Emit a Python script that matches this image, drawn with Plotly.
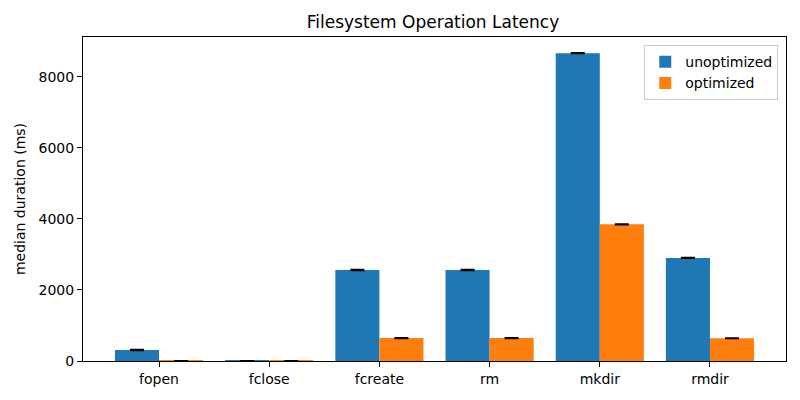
import plotly.graph_objects as go

categories = ["fopen", "fclose", "fcreate", "rm", "mkdir", "rmdir"]
unoptimized = [310, 3, 2560, 2560, 8660, 2900]
optimized = [5, 3, 645, 645, 3845, 640]
unopt_err = [12, 2, 12, 12, 12, 12]
opt_err = [3, 2, 10, 10, 10, 10]
yticks = [0, 2000, 4000, 6000, 8000]

FONT = "DejaVu Sans"
x = list(range(len(categories)))

W, H = 792, 392
L, R, T, B = 72, 14, 29, 39

fig = go.Figure()
fig.add_trace(go.Bar(
    x=[i - 0.2 for i in x], y=unoptimized, width=0.4, name="unoptimized",
    marker=dict(color="#1f77b4", line=dict(width=0)),
    error_y=dict(type="data", array=unopt_err, color="black", thickness=1.5, width=7),
))
fig.add_trace(go.Bar(
    x=[i + 0.2 for i in x], y=optimized, width=0.4, name="optimized",
    marker=dict(color="#ff7f0e", line=dict(width=0)),
    error_y=dict(type="data", array=opt_err, color="black", thickness=1.5, width=7),
))

fig.update_layout(
    width=W, height=H,
    margin=dict(l=L, r=R, t=T, b=B),
    paper_bgcolor="white", plot_bgcolor="white",
    font=dict(family=FONT, size=14, color="black"),
    title=dict(text="Filesystem Operation Latency", x=(L + (W - R)) / 2 / W, xanchor="center",
               y=1 - 14 / H, yanchor="middle", font=dict(size=17, family=FONT)),
    barmode="overlay",
    showlegend=True,
    legend=dict(x=0.989, y=0.975, xanchor="right", yanchor="top",
                bgcolor="rgba(255,255,255,0.8)", bordercolor="#cccccc", borderwidth=1,
                font=dict(size=14, family=FONT)),
    xaxis=dict(range=[-0.69, 5.69], tickmode="array", tickvals=x, ticktext=categories,
               showline=True, linecolor="black", linewidth=1, mirror=True,
               ticks="outside", ticklen=5, tickcolor="black", showgrid=False, zeroline=False),
    yaxis=dict(range=[0, 9115], tickmode="array", tickvals=yticks, ticktext=[str(v) for v in yticks],
               showline=True, linecolor="black", linewidth=1, mirror=True,
               ticks="outside", ticklen=5, tickcolor="black", showgrid=False, zeroline=False,
               title=dict(text="median duration (ms)", font=dict(size=14, family=FONT), standoff=9)),
)

fig.write_html("out.html")
